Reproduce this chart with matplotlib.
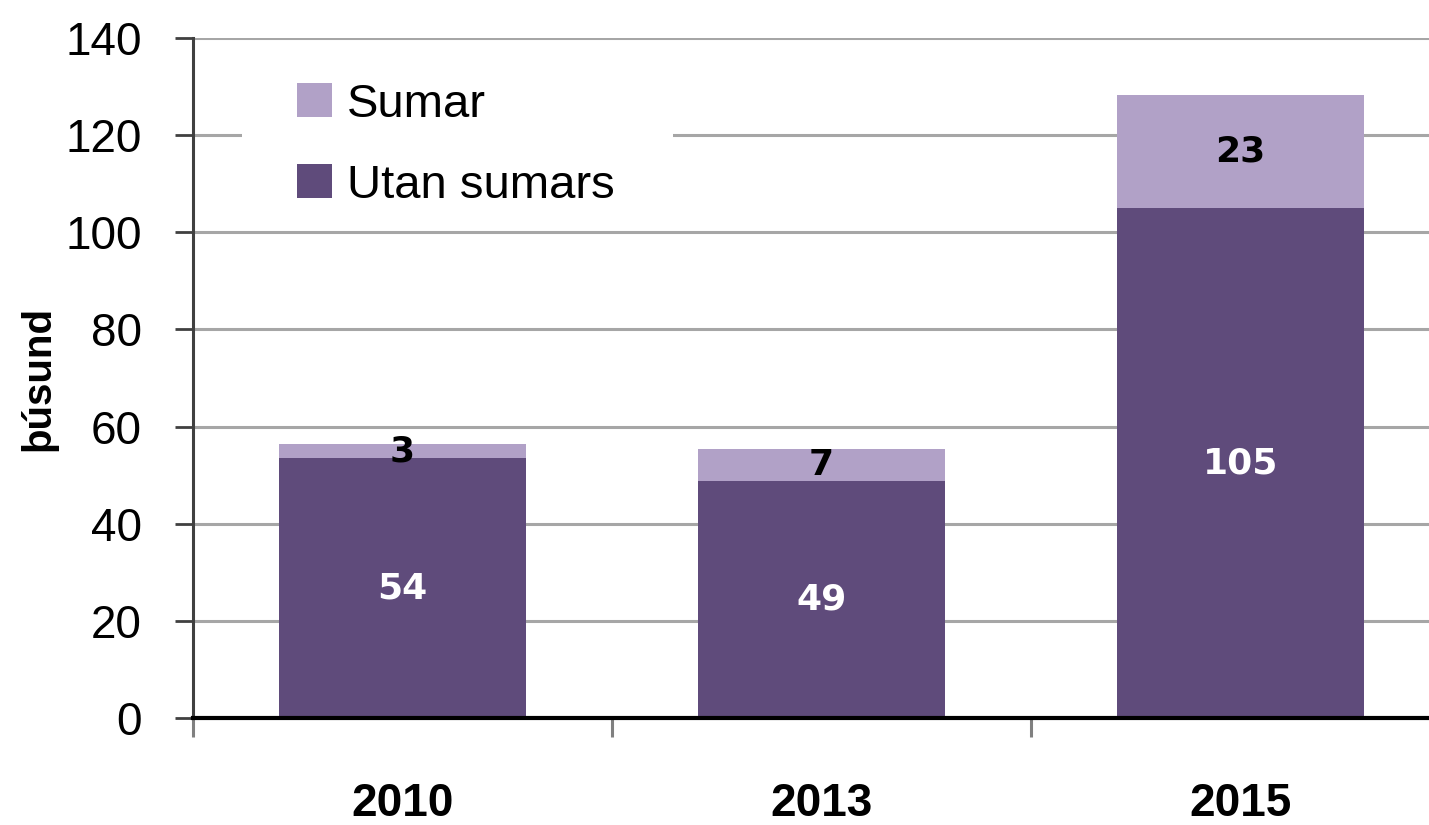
import matplotlib
matplotlib.use("Agg")
import matplotlib.pyplot as plt
from matplotlib.patches import Patch, Rectangle

years = ["2010", "2013", "2015"]
utan_sumars = [53.5, 48.7, 104.9]
sumar = [2.9, 6.6, 23.3]
yticks = [0, 20, 40, 60, 80, 100, 120, 140]

dark = "#5F4B7B"
light = "#B1A1C7"
FONT = "Liberation Sans"

fig = plt.figure(figsize=(14.29, 8.25), dpi=100)
ax = fig.add_axes([193 / 1429, (825 - 718) / 825, 1257 / 1429, 680 / 825])

x = list(range(len(years)))
w = 0.59
ax.bar(x, utan_sumars, width=w, color=dark, zorder=2, label="Utan sumars")
ax.bar(x, sumar, width=w, bottom=utan_sumars, color=light, zorder=2, label="Sumar")

for i in x:
    ax.text(i, utan_sumars[i] / 2, f"{utan_sumars[i]:.0f}", ha="center", va="center",
            color="white", fontsize=26, fontweight="bold", family="DejaVu Sans", zorder=3)
    ax.text(i, utan_sumars[i] + sumar[i] / 2, f"{sumar[i]:.0f}", ha="center", va="center",
            color="black", fontsize=26, fontweight="bold", family="DejaVu Sans", zorder=3)

ax.set_xlim(-0.5, 2.5)
ax.set_ylim(0, 140)
ax.set_yticks(yticks)
ax.set_yticklabels([str(v) for v in yticks], fontsize=33, family=FONT)
ax.tick_params(axis="y", direction="out", length=13, width=2, color="#404040", pad=24)

ax.set_xticks([-0.5, 0.5, 1.5, 2.5])
ax.set_xticklabels([])
ax.tick_params(axis="x", which="major", direction="out", length=14, width=2.2, color="#808080")
ax.set_xticks(x, minor=True)
ax.set_xticklabels(years, minor=True, fontsize=33, fontweight="bold", family=FONT)
ax.tick_params(axis="x", which="minor", length=0, pad=46)

ax.set_axisbelow(True)
ax.yaxis.grid(True, color="#A6A6A6", linewidth=2.2, zorder=0.5)
ax.xaxis.grid(False)

for s in ["top", "right"]:
    ax.spines[s].set_visible(False)
ax.spines["left"].set_color("#404040")
ax.spines["left"].set_linewidth(2.2)
ax.spines["bottom"].set_color("black")
ax.spines["bottom"].set_linewidth(3)
ax.spines["bottom"].set_zorder(4)

ax.set_ylabel("þúsund", fontsize=29, fontweight="bold", family=FONT)
ax.yaxis.set_label_coords(-0.108, 0.5)

# white box behind legend
ax.add_patch(Rectangle(((242 - 193) / 1257, (718 - 215) / 680), (673 - 242) / 1257, 150 / 680,
                       transform=ax.transAxes, facecolor="white", edgecolor="none", zorder=1))

handles = [Patch(facecolor=light, label="Sumar"), Patch(facecolor=dark, label="Utan sumars")]
ax.legend(handles=handles, loc="upper left", bbox_to_anchor=(0.064, 0.969),
          frameon=False, borderpad=0, handlelength=0.75, handleheight=0.72,
          handletextpad=0.3, labelspacing=0.78,
          prop={"family": FONT, "size": 34})

fig.savefig("out.png", dpi=100)
